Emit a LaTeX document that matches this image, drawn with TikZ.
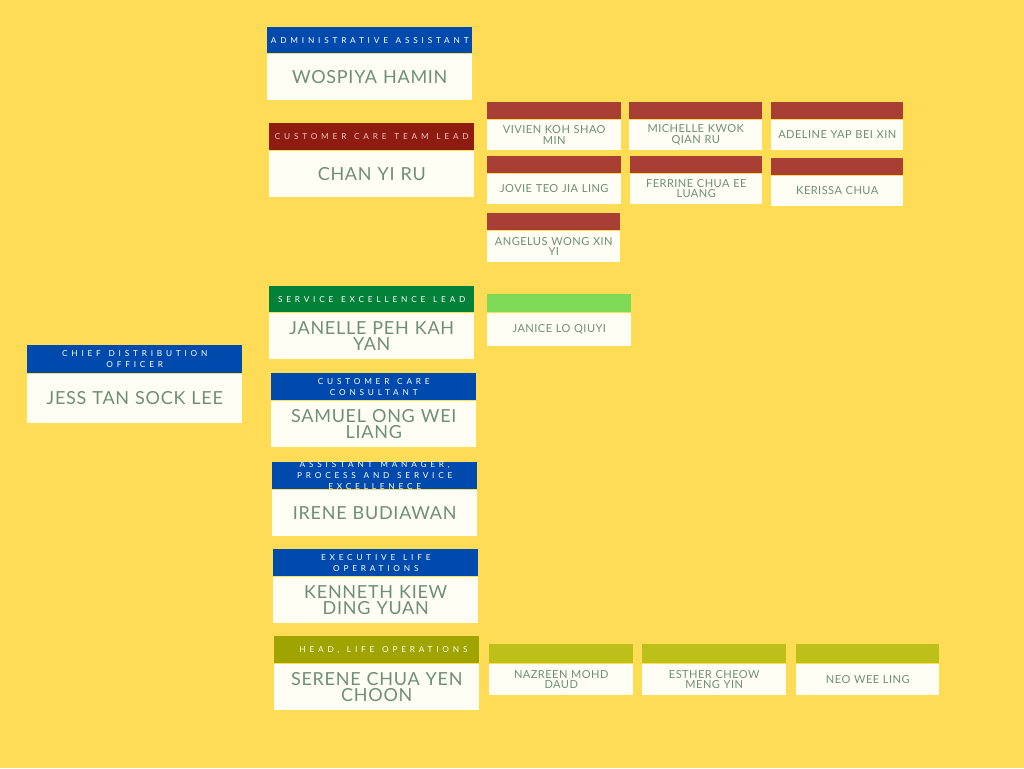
\documentclass[tikz,border=0pt]{standalone}
\usepackage{fontspec}
\setmainfont{Lato}
\newfontfamily\ttlfont[LetterSpace=46, WordSpace=1.3]{Lato}
\newfontfamily\namefont[LetterSpace=4]{Lato}

\definecolor{bgyellow}{HTML}{FEDC56}
\definecolor{hdblue}{HTML}{014AAD}
\definecolor{hdmaroon}{HTML}{8F1C11}
\definecolor{hdbrick}{HTML}{A93E34}
\definecolor{hdgreen}{HTML}{038139}
\definecolor{hdlime}{HTML}{7ED957}
\definecolor{hdolive}{HTML}{A0A400}
\definecolor{hdmoss}{HTML}{BCC019}
\definecolor{cardwhite}{HTML}{FFFEF4}
\definecolor{nametext}{HTML}{6F8E78}
\definecolor{pinktext}{HTML}{F2C6BE}

\tikzset{
  hdr/.style={fill=#1, inner sep=0pt, anchor=north west},
  body/.style={fill=cardwhite, inner sep=0pt, anchor=north, text=nametext, align=center},
  bigname/.style={font=\namefont\fontsize{13.5}{12}\selectfont},
  smallname/.style={font=\namefont\fontsize{8.3}{7.8}\selectfont},
  ttl/.style={font=\ttlfont\fontsize{6.2}{8.2}\selectfont, text=#1, align=center, inner sep=0pt},
  ttl/.default=white
}

% big card: id, x, y, width, header h, body h, colour, title, name
\newcommand{\bigcard}[9]{%
  \node[hdr=#7, minimum width=#4*0.75pt, minimum height=#5*0.75pt] (#1-t) at (#2,#3) {};
  \node[body, bigname, text width=#4*0.75pt, minimum height=#6*0.75pt] (#1) at (#1-t.south) {#9};
  \node[ttl] (#1-tt) at (#1-t.center) {#8};
}
% small card: id, x, y, width, header h, body h, colour, name
\newcommand{\smallcard}[8]{%
  \node[hdr=#7, minimum width=#4*0.75pt, minimum height=#5*0.75pt] (#1-t) at (#2,#3) {};
  \node[body, smallname, text width=#4*0.75pt, minimum height=#6*0.75pt] (#1) at (#1-t.south) {#8};
}

\begin{document}
\begin{tikzpicture}[x=0.75pt, y=-0.75pt]
  \fill[bgyellow] (0,0) rectangle (1024,768);
  \useasboundingbox (0,0) rectangle (1024,768);

  % top of the chart
  \bigcard{jess}{27}{345}{215}{28}{49}{hdblue}{CHIEF DISTRIBUTION\\OFFICER}{JESS TAN SOCK LEE}

  % direct reports
  \bigcard{wospiya}{267}{27}{205}{26}{46}{hdblue}{ADMINISTRATIVE ASSISTANT}{WOSPIYA HAMIN}
  \node[hdr=hdmaroon, minimum width=205*0.75pt, minimum height=27*0.75pt] (chan-t) at (269,123) {};
  \node[body, bigname, text width=205*0.75pt, minimum height=46*0.75pt] (chan) at (chan-t.south) {CHAN YI RU};
  \node[ttl=pinktext] (chan-tt) at (chan-t.center) {CUSTOMER CARE TEAM LEAD};
  \bigcard{janelle}{269}{286}{205}{26}{46}{hdgreen}{SERVICE EXCELLENCE LEAD}{JANELLE PEH KAH\\YAN}
  \bigcard{samuel}{271}{373}{205}{27}{46}{hdblue}{CUSTOMER CARE\\CONSULTANT}{SAMUEL ONG WEI\\LIANG}
  \bigcard{irene}{272}{462}{205}{27}{46}{hdblue}{ASSISTANT MANAGER,\\PROCESS AND SERVICE\\EXCELLENECE}{IRENE BUDIAWAN}
  \bigcard{kenneth}{273}{549}{205}{27}{46}{hdblue}{EXECUTIVE LIFE\\OPERATIONS}{KENNETH KIEW\\DING YUAN}
  % this title sits a little right of centre
  \node[hdr=hdolive, minimum width=205*0.75pt, minimum height=27*0.75pt] (serene-t) at (274,636) {};
  \node[body, bigname, text width=205*0.75pt, minimum height=46*0.75pt] (serene) at (serene-t.south) {SERENE CHUA YEN\\CHOON};
  \node[ttl, xshift=5pt] (serene-tt) at (serene-t.center) {HEAD, LIFE OPERATIONS};

  % customer care team
  \smallcard{vivien}{487}{102}{134}{17}{30}{hdbrick}{VIVIEN KOH SHAO\\MIN}
  \smallcard{michelle}{629}{102}{133}{17}{30}{hdbrick}{MICHELLE KWOK\\QIAN RU}
  \smallcard{adeline}{771}{102}{132}{17}{30}{hdbrick}{ADELINE YAP BEI XIN}
  \smallcard{jovie}{487}{156}{134}{17}{30}{hdbrick}{JOVIE TEO JIA LING}
  \smallcard{ferrine}{630}{156}{132}{17}{30}{hdbrick}{FERRINE CHUA EE\\LUANG}
  \smallcard{kerissa}{771}{158}{132}{17}{30}{hdbrick}{KERISSA CHUA}
  \smallcard{angelus}{487}{213}{133}{17}{31}{hdbrick}{ANGELUS WONG XIN\\YI}

  % service excellence
  \smallcard{janice}{487}{294}{144}{18}{33}{hdlime}{JANICE LO QIUYI}

  % life operations
  \smallcard{nazreen}{489}{644}{144}{19}{31}{hdmoss}{NAZREEN MOHD\\DAUD}
  \smallcard{esther}{642}{644}{144}{19}{31}{hdmoss}{ESTHER CHEOW\\MENG YIN}
  \smallcard{neo}{796}{644}{143}{19}{31}{hdmoss}{NEO WEE LING}
\end{tikzpicture}
\end{document}
